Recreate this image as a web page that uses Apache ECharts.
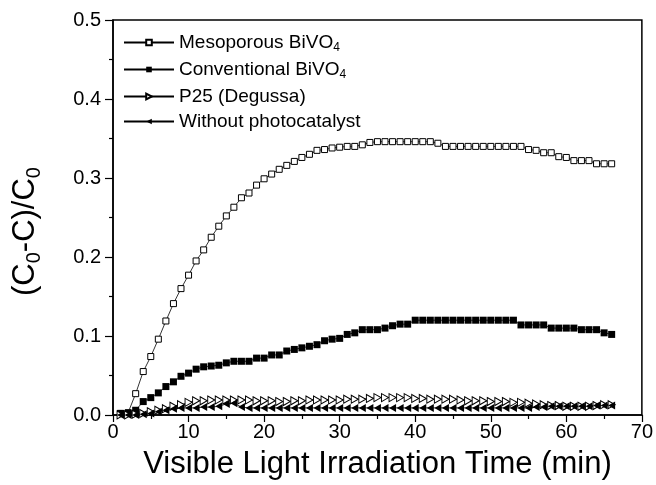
<!DOCTYPE html>
<html><head><meta charset="utf-8">
<script src="https://cdn.jsdelivr.net/npm/echarts@6/dist/echarts.min.js"></script>
<style>html,body{margin:0;padding:0;background:#fff}#c{width:656px;height:485px}</style>
</head><body><div id="c"></div>
<script>
const times = [1,2,3,4,5,6,7,8,9,10,11,12,13,14,15,16,17,18,19,20,21,22,23,24,25,26,27,28,29,30,31,32,33,34,35,36,37,38,39,40,41,42,43,44,45,46,47,48,49,50,51,52,53,54,55,56,57,58,59,60,61,62,63,64,65,66];
const mesoporous = [0.002,0.003,0.027,0.055,0.074,0.096,0.119,0.141,0.160,0.177,0.195,0.209,0.225,0.239,0.252,0.263,0.275,0.281,0.291,0.299,0.305,0.311,0.316,0.321,0.326,0.330,0.335,0.336,0.338,0.339,0.340,0.340,0.342,0.345,0.346,0.346,0.346,0.346,0.346,0.346,0.346,0.346,0.344,0.340,0.340,0.340,0.340,0.340,0.340,0.340,0.340,0.340,0.340,0.340,0.336,0.335,0.332,0.332,0.327,0.326,0.322,0.322,0.322,0.318,0.318,0.318];
const conventional = [0.002,0.002,0.006,0.017,0.022,0.028,0.036,0.042,0.049,0.053,0.058,0.061,0.062,0.063,0.066,0.068,0.068,0.068,0.072,0.072,0.076,0.076,0.081,0.083,0.085,0.087,0.089,0.094,0.096,0.097,0.102,0.104,0.108,0.108,0.108,0.110,0.113,0.115,0.115,0.120,0.120,0.120,0.120,0.120,0.120,0.120,0.120,0.120,0.120,0.120,0.120,0.120,0.120,0.114,0.114,0.114,0.114,0.110,0.110,0.110,0.110,0.108,0.108,0.108,0.104,0.102];
const p25 = [0,0,0.001,0.002,0.004,0.006,0.008,0.011,0.013,0.016,0.018,0.018,0.019,0.019,0.019,0.019,0.019,0.019,0.018,0.018,0.018,0.017,0.017,0.018,0.018,0.019,0.019,0.019,0.019,0.019,0.020,0.020,0.020,0.021,0.022,0.022,0.022,0.022,0.022,0.021,0.021,0.020,0.020,0.020,0.020,0.019,0.018,0.018,0.018,0.017,0.017,0.017,0.016,0.016,0.015,0.014,0.013,0.012,0.012,0.011,0.011,0.011,0.011,0.012,0.013,0.013];
const without = [0,0,0,0.001,0.002,0.004,0.006,0.008,0.009,0.009,0.009,0.010,0.010,0.011,0.014,0.015,0.010,0.009,0.009,0.009,0.009,0.009,0.009,0.009,0.009,0.009,0.009,0.009,0.009,0.009,0.009,0.009,0.009,0.009,0.009,0.009,0.009,0.009,0.009,0.009,0.009,0.009,0.009,0.009,0.009,0.009,0.009,0.009,0.009,0.009,0.009,0.009,0.009,0.009,0.009,0.010,0.010,0.011,0.011,0.011,0.011,0.011,0.011,0.012,0.012,0.012];
const seriesNames = ['Mesoporous BiVO{s|4}','Conventional BiVO{s|4}','P25 (Degussa)','Without photocatalyst'];
const xTicks = [0,10,20,30,40,50,60,70];
const yTicks = [0.0,0.1,0.2,0.3,0.4,0.5];

const FONT = '"Liberation Sans", Arial, sans-serif';
const pair = arr => times.map((t,i)=>[t,arr[i]]);
const rightTri = 'path://M0,0 L10,5 L0,10 Z';
const leftTri = 'path://M10,0 L0,5 L10,10 Z';

const chart = echarts.init(document.getElementById('c'));
const base = {type:'line', lineStyle:{color:'#000', width:0.8}, emphasis:{disabled:true}, animation:false};
chart.setOption({
  animation:false,
  grid:{left:113, right:12, top:20, bottom:69, show:true, borderColor:'#000', borderWidth:1.5},
  legend:{
    left:118, top:28, orient:'vertical', itemGap:6, itemWidth:50, itemHeight:7,
    data: seriesNames,
    textStyle:{fontFamily:FONT, fontSize:19, color:'#000', rich:{s:{fontFamily:FONT, fontSize:12, verticalAlign:'bottom', padding:[11,0,0,0]}}}
  },
  xAxis:{type:'value', min:0, max:70, interval:10,
    axisLine:{lineStyle:{color:'#000', width:1.5}},
    axisTick:{length:7, lineStyle:{color:'#000', width:1.2}},
    minorTick:{show:true, splitNumber:2, length:4, lineStyle:{color:'#000', width:1.2}},
    splitLine:{show:false},
    axisLabel:{fontFamily:FONT, fontSize:20, color:'#000', margin:7, formatter:v=>String(v)},
    name:'Visible Light Irradiation Time (min)', nameLocation:'middle', nameGap:34,
    nameTextStyle:{fontFamily:FONT, fontSize:31, color:'#000'}
  },
  yAxis:{type:'value', min:0, max:0.5, interval:0.1,
    axisLine:{show:true, lineStyle:{color:'#000', width:1.5}},
    axisTick:{show:true, length:8, lineStyle:{color:'#000', width:1.2}},
    minorTick:{show:true, splitNumber:2, length:4, lineStyle:{color:'#000', width:1.2}},
    splitLine:{show:false},
    axisLabel:{fontFamily:FONT, fontSize:20, color:'#000', margin:12, formatter:v=>v.toFixed(1)},
    name:'(C{s|0}-C)/C{s|0}', nameLocation:'middle', nameGap:69, nameRotate:90,
    nameTextStyle:{fontFamily:FONT, fontSize:31, color:'#000', padding:[0,28,0,0], rich:{s:{fontFamily:FONT, fontSize:20, padding:[18,0,0,0]}}}
  },
  series:[
    Object.assign({}, base, {name:seriesNames[0], data:pair(mesoporous), symbol:'rect', symbolSize:6, itemStyle:{color:'#fff', borderColor:'#000', borderWidth:1}}),
    Object.assign({}, base, {name:seriesNames[1], data:pair(conventional), symbol:'rect', symbolSize:7, itemStyle:{color:'#000', borderColor:'#000', borderWidth:0}}),
    Object.assign({}, base, {name:seriesNames[2], data:pair(p25), symbol:rightTri, symbolSize:[7,8], itemStyle:{color:'#fff', borderColor:'#000', borderWidth:1}}),
    Object.assign({}, base, {name:seriesNames[3], data:pair(without), symbol:leftTri, symbolSize:[7,8], itemStyle:{color:'#000', borderColor:'#000', borderWidth:0}})
  ]
});
</script></body></html>
